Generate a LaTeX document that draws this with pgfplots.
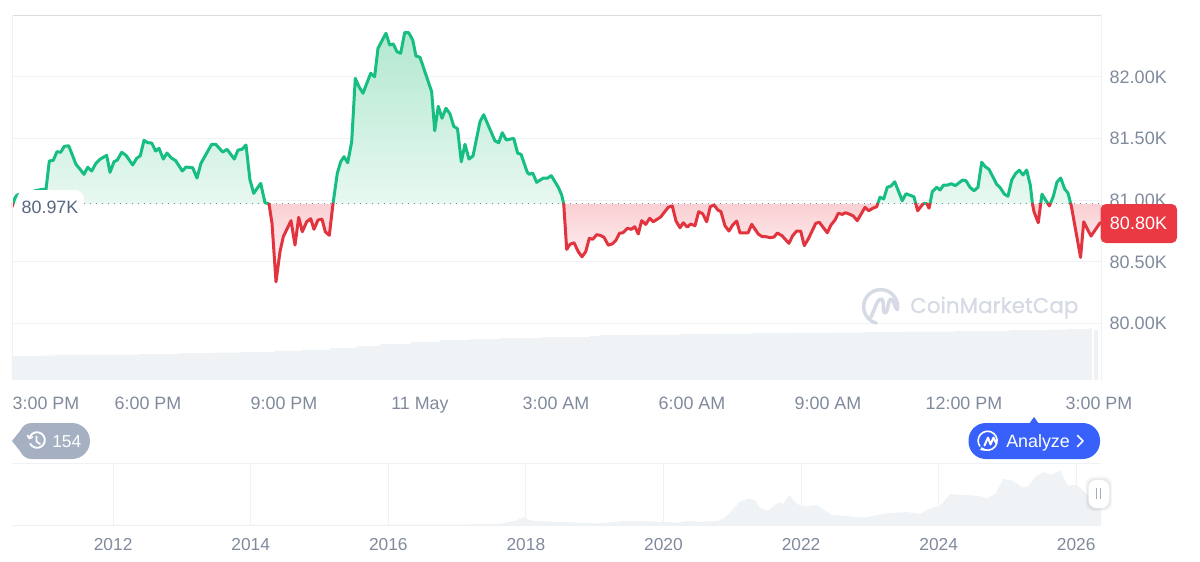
\documentclass[border=0pt]{standalone}
\usepackage{fontspec}
\setmainfont{Liberation Sans}
\newfontfamily\cmc[FakeBold=0.6]{Poppins}
\usepackage{pgfplots}
\usepackage{pgfplotstable}
\pgfplotsset{compat=1.18}
\definecolor{gridc}{HTML}{EFF2F5}
\definecolor{volc}{HTML}{F0F3F5}
\definecolor{tickc}{HTML}{808A9D}
\definecolor{lblc}{HTML}{58667E}
\definecolor{upc}{HTML}{16BE82}
\definecolor{dnc}{HTML}{E2343F}
\definecolor{redbox}{HTML}{EA3943}
\definecolor{bluebtn}{HTML}{3861FB}
\definecolor{badge}{HTML}{A6B0C3}
\definecolor{wm}{HTML}{D5DAE4}
\definecolor{GA}{RGB}{178,232,208}
\definecolor{GB}{RGB}{232,248,241}
\definecolor{RA}{RGB}{250,208,212}
\definecolor{RB}{RGB}{255,250,250}
\pgfplotstableread[row sep=\\]{
0 80.945\\ 0.022 80.97\\
}\rA
\pgfplotstableread[row sep=\\]{
0.022 80.97\\ 0.066 81.018\\ 0.11 81.042\\ 0.397 81.067\\ 0.655 81.088\\ 0.75 81.088\\ 0.823 81.318\\ 0.911 81.324\\ 0.993 81.394\\ 1.074 81.389\\
1.154 81.437\\ 1.251 81.442\\ 1.412 81.291\\ 1.485 81.259\\ 1.588 81.21\\ 1.67 81.267\\ 1.758 81.237\\ 1.853 81.3\\ 1.941 81.332\\ 2.089 81.364\\
2.162 81.226\\ 2.25 81.312\\ 2.323 81.326\\ 2.42 81.389\\ 2.515 81.364\\ 2.663 81.286\\ 2.751 81.34\\ 2.83 81.361\\ 2.912 81.486\\ 2.994 81.467\\
3.082 81.464\\ 3.17 81.399\\ 3.243 81.421\\ 3.338 81.334\\ 3.419 81.383\\ 3.514 81.343\\ 3.611 81.321\\ 3.757 81.237\\ 3.838 81.269\\ 3.986 81.264\\
4.081 81.18\\ 4.169 81.3\\ 4.405 81.454\\ 4.494 81.454\\ 4.648 81.391\\ 4.743 81.413\\ 4.904 81.334\\ 4.986 81.407\\ 5.074 81.413\\ 5.162 81.448\\
5.25 81.164\\ 5.332 81.056\\ 5.486 81.137\\ 5.581 80.98\\ 5.67 80.97\\
}\gA
\pgfplotstableread[row sep=\\]{
5.67 80.97\\ 5.736 80.812\\ 5.824 80.338\\ 5.912 80.582\\ 5.985 80.704\\ 6.155 80.834\\ 6.243 80.636\\ 6.325 80.861\\ 6.404 80.744\\ 6.501 80.825\\
6.589 80.85\\ 6.662 80.764\\ 6.75 80.839\\ 6.839 80.847\\ 6.912 80.744\\ 7.0 80.715\\ 7.081 80.97\\
}\rB
\pgfplotstableread[row sep=\\]{
7.081 80.97\\ 7.176 81.218\\ 7.251 81.312\\ 7.324 81.353\\ 7.406 81.304\\ 7.494 81.475\\ 7.573 81.989\\ 7.655 81.921\\ 7.743 81.868\\ 7.913 82.03\\
8.0 82.002\\ 8.074 82.233\\ 8.25 82.355\\ 8.332 82.26\\ 8.411 82.268\\ 8.493 82.205\\ 8.574 82.192\\ 8.663 82.36\\ 8.751 82.36\\ 8.84 82.3\\
8.912 82.17\\ 9.0 82.16\\ 9.258 81.881\\ 9.325 81.564\\ 9.404 81.762\\ 9.486 81.665\\ 9.574 81.746\\ 9.662 81.701\\ 9.744 81.6\\ 9.828 81.58\\
9.912 81.312\\ 9.993 81.454\\ 10.081 81.334\\ 10.17 81.359\\ 10.324 81.637\\ 10.405 81.694\\ 10.655 81.481\\ 10.737 81.467\\ 10.816 81.548\\ 10.904 81.489\\
11.068 81.502\\ 11.156 81.381\\ 11.229 81.373\\ 11.368 81.226\\ 11.412 81.21\\ 11.486 81.221\\ 11.575 81.145\\ 11.721 81.18\\ 11.809 81.178\\ 11.897 81.199\\
12.052 81.105\\ 12.126 81.042\\ 12.171 80.97\\
}\gB
\pgfplotstableread[row sep=\\]{
12.171 80.97\\ 12.237 80.601\\ 12.31 80.642\\ 12.398 80.655\\ 12.493 80.582\\ 12.574 80.541\\ 12.656 80.582\\ 12.736 80.691\\ 12.811 80.683\\ 12.899 80.72\\
12.978 80.715\\ 13.06 80.699\\ 13.155 80.635\\ 13.247 80.646\\ 13.32 80.673\\ 13.401 80.732\\ 13.479 80.736\\ 13.574 80.772\\ 13.662 80.764\\ 13.737 80.785\\
13.816 80.726\\ 13.891 80.834\\ 13.98 80.804\\ 14.068 80.853\\ 14.147 80.825\\ 14.31 80.864\\ 14.478 80.943\\ 14.566 80.953\\ 14.648 80.831\\ 14.736 80.777\\
14.809 80.817\\ 14.897 80.782\\ 14.972 80.807\\ 15.067 80.793\\ 15.149 80.907\\ 15.237 80.89\\ 15.325 80.825\\ 15.405 80.948\\ 15.486 80.961\\ 15.574 80.92\\
15.64 80.907\\ 15.728 80.793\\ 15.816 80.75\\ 15.899 80.799\\ 15.987 80.831\\ 16.06 80.734\\ 16.236 80.734\\ 16.318 80.804\\ 16.463 80.726\\ 16.551 80.704\\
16.633 80.704\\ 16.721 80.696\\ 16.81 80.701\\ 16.883 80.734\\ 16.986 80.712\\ 17.14 80.65\\ 17.222 80.712\\ 17.31 80.75\\ 17.398 80.75\\ 17.478 80.631\\
17.566 80.685\\ 17.73 80.812\\ 17.809 80.821\\ 17.986 80.736\\ 18.067 80.799\\ 18.155 80.839\\ 18.228 80.894\\ 18.316 80.885\\ 18.391 80.899\\ 18.486 80.885\\
18.559 80.872\\ 18.647 80.834\\ 18.817 80.942\\ 18.899 80.915\\ 18.986 80.934\\ 19.075 80.947\\ 19.097 80.97\\
}\rC
\pgfplotstableread[row sep=\\]{
19.097 80.97\\ 19.148 81.024\\ 19.23 81.01\\ 19.309 81.105\\ 19.391 81.115\\ 19.473 81.15\\ 19.64 80.996\\ 19.722 81.053\\ 19.898 81.028\\ 19.938 80.97\\
}\gC
\pgfplotstableread[row sep=\\]{
19.938 80.97\\ 19.98 80.915\\ 20.068 80.956\\ 20.097 80.97\\
}\rD
\pgfplotstableread[row sep=\\]{
20.097 80.97\\ 20.147 80.976\\ 20.185 80.97\\
}\gD
\pgfplotstableread[row sep=\\]{
20.185 80.97\\ 20.229 80.935\\ 20.251 80.97\\
}\rE
\pgfplotstableread[row sep=\\]{
20.251 80.97\\ 20.302 81.07\\ 20.399 81.105\\ 20.472 81.083\\ 20.553 81.123\\ 20.642 81.123\\ 20.721 81.134\\ 20.809 81.118\\ 20.972 81.164\\ 21.045 81.158\\
21.134 81.105\\ 21.222 81.077\\ 21.31 81.105\\ 21.392 81.308\\ 21.471 81.272\\ 21.553 81.251\\ 21.723 81.129\\ 21.802 81.101\\ 21.89 81.05\\ 21.972 81.032\\
22.054 81.164\\ 22.142 81.218\\ 22.221 81.243\\ 22.303 81.205\\ 22.384 81.245\\ 22.464 81.123\\ 22.512 80.97\\
}\gE
\pgfplotstableread[row sep=\\]{
22.512 80.97\\ 22.545 80.907\\ 22.64 80.817\\ 22.693 80.97\\
}\rF
\pgfplotstableread[row sep=\\]{
22.693 80.97\\ 22.722 81.049\\ 22.854 80.97\\
}\gF
\pgfplotstableread[row sep=\\]{
22.854 80.97\\ 22.884 80.954\\ 22.903 80.97\\
}\rG
\pgfplotstableread[row sep=\\]{
22.903 80.97\\ 22.971 81.03\\ 23.053 81.148\\ 23.135 81.18\\ 23.223 81.091\\ 23.296 81.058\\ 23.358 80.97\\
}\gG
\pgfplotstableread[row sep=\\]{
23.358 80.97\\ 23.378 80.935\\ 23.573 80.536\\ 23.643 80.825\\ 23.803 80.709\\ 23.986 80.807\\ 24.024 80.82\\
}\rH
\pgfplotstableread[row sep=\\]{
23.358 80.97\\ 23.378 80.935\\ 23.573 80.536\\ 23.643 80.825\\ 23.803 80.709\\ 23.986 80.807\\ 24.024 80.82\\ 24.024 80.97\\
}\rHf
\newcommand\gfill[2]{\addplot[draw=none,forget plot,top color=GA!#2!GB,bottom color=GB] table {#1};}
\newcommand\rfill[2]{\addplot[draw=none,forget plot,top color=RA,bottom color=RB!#2!RA] table {#1};}
\newcommand\gline[1]{\addplot[upc,line width=2.25pt,line join=round,line cap=round,forget plot] table {#1};}
\newcommand\rline[1]{\addplot[dnc,line width=2.25pt,line join=round,line cap=round,forget plot] table {#1};}
\begin{document}
\begin{tikzpicture}
% main price axis
\begin{axis}[
  at={(9pt,-285pt)},anchor=south west,scale only axis,
  width=816.75pt,height=273.75pt,
  xmin=0,xmax=24.024,ymin=79.541,ymax=82.503,
  axis line style={draw=none},
  major tick length=0pt,
  ymajorgrids,grid style={gridc,line width=.75pt},
  ytick={80,80.5,81,81.5,82},
  yticklabels={80.00K,80.50K,81.00K,81.50K,82.00K},
  yticklabel pos=right,
  yticklabel style={anchor=west,xshift=3pt,font=\fontsize{13.5}{15}\selectfont,text=tickc},
  xtick={0.75,3,6,9,12,15,18,21,23.98},
  xticklabels={3:00 PM,6:00 PM,9:00 PM,11 May,3:00 AM,6:00 AM,9:00 AM,12:00 PM,3:00 PM},
  xticklabel style={anchor=base,yshift=-22pt,font=\fontsize{13.4}{15}\selectfont,text=tickc},
]
\gfill{\gA}{37}\gfill{\gB}{100}\gfill{\gC}{13}\gfill{\gD}{1}\gfill{\gE}{24}\gfill{\gF}{6}\gfill{\gG}{15}
\rfill{\rA}{4}\rfill{\rB}{100}\rfill{\rC}{68}\rfill{\rD}{9}\rfill{\rE}{6}\rfill{\rF}{24}\rfill{\rG}{2}\rfill{\rHf}{69}
\addplot[color=lblc!80,line width=.8pt,dash pattern=on .8pt off 3.7pt,forget plot] coordinates {(1.59,80.97)(24.024,80.97)};
\gline{\gA}\gline{\gB}\gline{\gC}\gline{\gD}\gline{\gE}\gline{\gF}\gline{\gG}
\rline{\rA}\rline{\rB}\rline{\rC}\rline{\rD}\rline{\rE}\rline{\rF}\rline{\rG}\rline{\rH}
\end{axis}
% volume strip
\begin{axis}[
  at={(9pt,-285pt)},anchor=south west,scale only axis,
  width=816.75pt,height=41.25pt,
  xmin=0,xmax=24.024,ymin=0,ymax=55,hide axis,
]
\addplot[fill=volc,draw=none,const plot] coordinates {
(0,24)(0.5,24.3)(0.95,25.5)(1.9,25.5)(2.8,26)(3.7,27)(4.4,27.4)(5.03,28)(5.8,29.3)(6.4,30.5)(7.01,32)(7.6,34)(8.12,36)(8.8,38)(9.44,40)(10.1,41)(10.76,42)(11.7,43)(12.75,44)(12.97,45)(13.8,45.4)(14.74,46)(15.5,46.4)(16.34,47)(17.2,47.2)(18.04,47.5)(18.8,47.9)(19.59,48.3)(20.8,49)(22,50)(22.9,50.5)(23.3,51)(23.78,51.7)(23.82,51.7)
} \closedcycle;
\addplot[fill=volc,draw=none,const plot] coordinates {(23.87,50)(23.96,50)} \closedcycle;
\end{axis}
% navigator
\begin{axis}[
  at={(9pt,-393.75pt)},anchor=south west,scale only axis,
  width=816.75pt,height=46.125pt,
  xmin=2010.53,xmax=2026.36,ymin=0,ymax=143,
  axis line style={draw=none},major tick length=0pt,
  xmajorgrids,ymajorgrids,grid style={gridc,line width=.75pt},
  ytick={0,143},yticklabels={},
  xtick={2012,2014,2016,2018,2020,2022,2024,2026},
  xticklabels={2012,2014,2016,2018,2020,2022,2024,2026},
  xticklabel style={anchor=base,yshift=-19pt,font=\fontsize{13}{15}\selectfont,text=tickc},
]
\addplot[fill=volc,draw=none] coordinates {
(2010.53,0)(2014,0.6)(2016,0.6)(2017.03,1)(2017.64,3)(2017.85,10)(2017.97,19)(2018.05,12)(2018.15,9.3)(2018.6,6.5)(2019.08,3.5)(2019.41,9.3)(2019.7,9)(2019.97,7.7)(2020.19,5.4)(2020.36,9)(2020.53,7.8)(2020.79,9.3)(2020.9,18)(2021.01,37)(2021.11,54)(2021.23,61)(2021.33,58)(2021.4,41)(2021.52,33)(2021.67,53)(2021.74,49)(2021.83,70)(2021.91,54)(2021.99,45)(2022.08,43)(2022.23,47)(2022.35,33)(2022.45,23)(2022.6,22)(2022.81,18)(2022.96,18)(2023.1,23)(2023.29,28)(2023.54,30)(2023.73,26)(2023.83,35)(2024.02,45)(2024.17,72)(2024.36,70)(2024.58,68)(2024.7,62)(2024.82,72)(2024.94,107)(2025.08,103)(2025.21,88)(2025.3,90)(2025.4,111)(2025.52,123)(2025.65,117)(2025.76,127)(2025.88,92)(2026.01,93)(2026.1,80)(2026.17,68)(2026.36,70)
} \closedcycle;
\end{axis}
% overlays in reference pixel units
\begin{scope}[x=.75pt,y=-.75pt]
\path[use as bounding box] (0,0) rectangle (1200,561);
\draw[gridc!90!black!90,line width=.75pt] (12,15)--(1101,15);
\draw[gridc,line width=.75pt] (12,15)--(12,380) (1101,15)--(1101,380);
% start label
\fill[white,rounded corners=7pt] (17,190) rectangle (84,222);
\node[anchor=base,text=lblc,font=\fontsize{13.4}{15}\selectfont,inner sep=0pt] at (50,213) {80.97K};
% current price
\fill[redbox,rounded corners=4pt] (1100.5,204) rectangle (1177,243);
\node[anchor=base,text=white,font=\fontsize{13.5}{15}\selectfont,inner sep=0pt] at (1138.5,229.5) {80.80K};
% watermark
\draw[wm,line width=2.6pt,line cap=round] (897.4,309.6) arc[start angle=10,end angle=-255,radius=17];
\draw[wm,line width=2.6pt,line cap=round,line join=round] (871,317) .. controls (875,309) and (877,299) .. (881,299) .. controls (885,299) and (882,313) .. (885,313) .. controls (888,313) and (888,299) .. (891,299) .. controls (894,299) and (894,308) .. (897.4,309.6);
\node[anchor=base west,text=wm,font=\cmc\fontsize{16.1}{18}\selectfont,inner sep=0pt] at (910,313) {CoinMarketCap};
% history badge
\fill[badge] (12,441) -- (20,431) .. controls (23,425) and (27,423) .. (32,423) -- (72,423) arc[start angle=-90,end angle=90,radius=18] -- (32,459) .. controls (27,459) and (23,457) .. (20,451) -- cycle;
\draw[white,line width=1.4pt,line cap=round] (29.5,438) arc[start angle=-165,end angle=150,radius=7.8];
\draw[white,line width=1.3pt,line cap=round,line join=round] (27.5,435.5)--(29.5,438.5)--(32.5,437) (36.5,436.5)--(36.5,441.5)--(40,444);
\node[anchor=base west,text=white,font=\fontsize{13}{15}\selectfont,inner sep=0pt] at (52,447) {154};
% analyze button
\fill[bluebtn] (1029,424) -- (1034,417) -- (1039,424) -- cycle;
\fill[bluebtn,rounded corners=13pt] (968.5,423) rectangle (1100,459);
\draw[white,line width=1.2pt,line cap=round] (981.5,448) arc[start angle=130,end angle=-215,radius=9.5];
\draw[white,line width=1.2pt,line cap=round] (981,449.5)--(985,450);
\draw[white,line width=1.5pt,line cap=round,line join=round] (984.5,445.5)--(988,437.5)--(990.5,444.5)--(993.5,437.5)--(996,443);
\node[anchor=base west,text=white,font=\fontsize{13.4}{15}\selectfont,inner sep=0pt] at (1006,447) {Analyze};
\draw[white,line width=1.2pt,line cap=round,line join=round] (1077.5,435.5)--(1083,441)--(1077.5,446.5);
% navigator handle
\fill[black,opacity=.04,rounded corners=6pt] (1085.5,476.5) rectangle (1112,511);
\fill[black,opacity=.05,rounded corners=6pt] (1087,478.5) rectangle (1110.5,509.5);
\fill[white,rounded corners=6pt] (1088.5,480) rectangle (1109,508);
\draw[tickc!70,line width=.8pt] (1096.5,488)--(1096.5,499) (1100.5,488)--(1100.5,499);
\end{scope}
\end{tikzpicture}
\end{document}
